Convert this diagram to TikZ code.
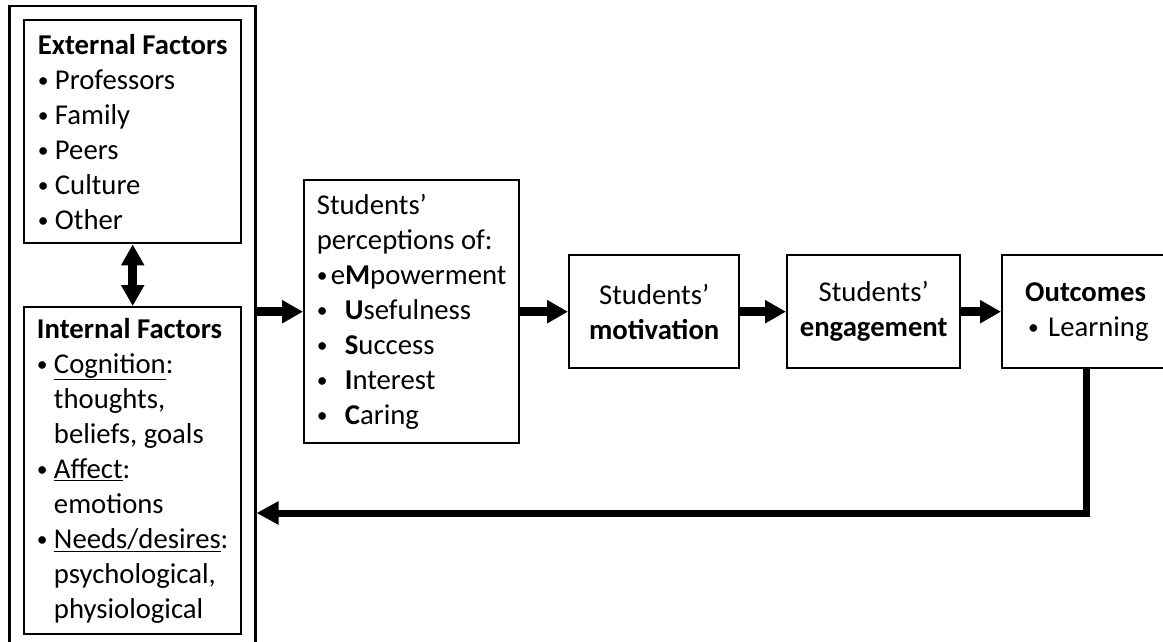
\documentclass[tikz,border=0pt]{standalone}
\usepackage{fontspec}
\setmainfont{Carlito}
\usetikzlibrary{arrows.meta}

\newcommand\dotmark{\raisebox{1.5pt}{\scalebox{0.75}{\textbullet}}}
\newcommand\bitem[1][17pt]{\makebox[#1][l]{\dotmark}}
\newcommand\bpad{\hspace*{17pt}}

\begin{document}
\begin{tikzpicture}[x=1pt,y=-1pt,font=\fontsize{28.7}{35}\selectfont]
\useasboundingbox (0,0) rectangle (1163,642);
\node[draw,line width=2.5pt,anchor=north west,inner sep=0pt,
      minimum width=246pt,minimum height=660pt] (F) at (8,5) {};
\begin{scope}[every node/.style={draw,line width=2.4pt,anchor=north west,
                                 align=left,inner sep=0pt}]
    \node[minimum width=217pt,minimum height=223pt] (Ext) at (23,19)
        {\textbf{External Factors}\\ \bitem Professors\\ \bitem Family\\
         \bitem Peers\\ \bitem Culture\\ \bitem Other};
    \node[minimum width=217pt,minimum height=327pt] (Int) at (23,306)
        {\textbf{Internal Factors}\\ \bitem\underline{Cognition}:\\
         \bpad thoughts,\\ \bpad beliefs, goals\\ \bitem\underline{Affect}:\\
         \bpad emotions\\ \bitem\underline{Needs/desires}:\\
         \bpad psychological,\\ \bpad physiological};
    \node[minimum width=215pt,minimum height=263pt] (Perc) at (303,179)
        {Students’\\ perceptions of:\\
         \bitem[14pt]e\textbf{M}powerment\\
         \bitem[28pt]\textbf{U}sefulness\\
         \bitem[28pt]\textbf{S}uccess\\
         \bitem[28pt]\textbf{I}nterest\\
         \bitem[28pt]\textbf{C}aring};
    \node[align=center,minimum width=170pt,minimum height=113pt] (Mot) at (568,254)
        {Students’\\ \textbf{motivation}};
    \node[align=center,minimum width=173pt,minimum height=113pt] (Eng) at (786,254)
        {Students’\\ \textbf{engagement}};
    \node[inner xsep=23pt,minimum height=113pt] (Out) at (1001,254)
        {\textbf{Outcomes}\\ \hspace*{3pt}\bitem[20pt]Learning};
\end{scope}
\coordinate (turn) at (1086,513);
\begin{scope}[>={Triangle[length=21pt,width=22pt]},
              every edge/.style={draw,line width=9pt}]
    \path [<->] (Ext) edge (Int);
    \path [->] (F.east |- Perc.west) edge (Perc.west);
    \path [->] (Perc) edge (Mot);
    \path [->] (Mot) edge (Eng);
    \path [->] (Eng) edge (Out);
\end{scope}
\draw [line width=7pt,-{Triangle[length=22pt,width=22pt]}]
    (Out.south -| turn) -- (turn) -- (F.east |- turn);
\end{tikzpicture}
\end{document}
